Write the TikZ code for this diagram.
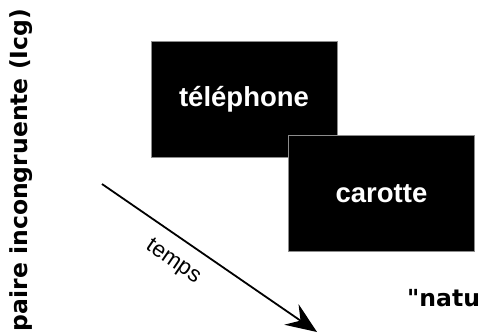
\documentclass[tikz,border=0pt]{standalone}
\usepackage{fontspec}
\setmainfont{Liberation Sans}
\newfontfamily\djv{DejaVu Sans}
\usetikzlibrary{arrows.meta}
\tikzset{
  card/.style={rectangle, fill=black, draw=black!45, line width=0.8pt, inner sep=0pt,
    minimum width=186pt, minimum height=116pt, text=white,
    font=\bfseries\fontsize{27.5}{28}\selectfont},
  sidelabel/.style={font=\djv\bfseries\fontsize{23.5}{24}\selectfont, inner sep=0pt},
  timearrow/.style={line width=1.8pt, -{Stealth[length=31pt,width=25pt,inset=11pt]}},
}
\begin{document}
\begin{tikzpicture}[x=1pt,y=-1pt]
\useasboundingbox (0,0) rectangle (487,333);
\node[sidelabel, rotate=90] (side) at (21,170) {paire incongruente (Icg)};
\node[card] (tel) at (244,99) {téléphone};
\node[card] (car) at (381.5,193.5) {carotte};
\coordinate (t0) at (102,184);
\coordinate (t1) at (317,332);
\draw[timearrow] (t0) -- (t1);
\node[font=\fontsize{22.5}{23}\selectfont, rotate=-34.5, inner sep=0pt] (temps) at (173,262) {temps};
\begin{scope}
\clip (0,0) rectangle (487,333);
\node[sidelabel, anchor=base west] (natu) at (407,306.5) {"natu};
\end{scope}
\end{tikzpicture}
\end{document}
